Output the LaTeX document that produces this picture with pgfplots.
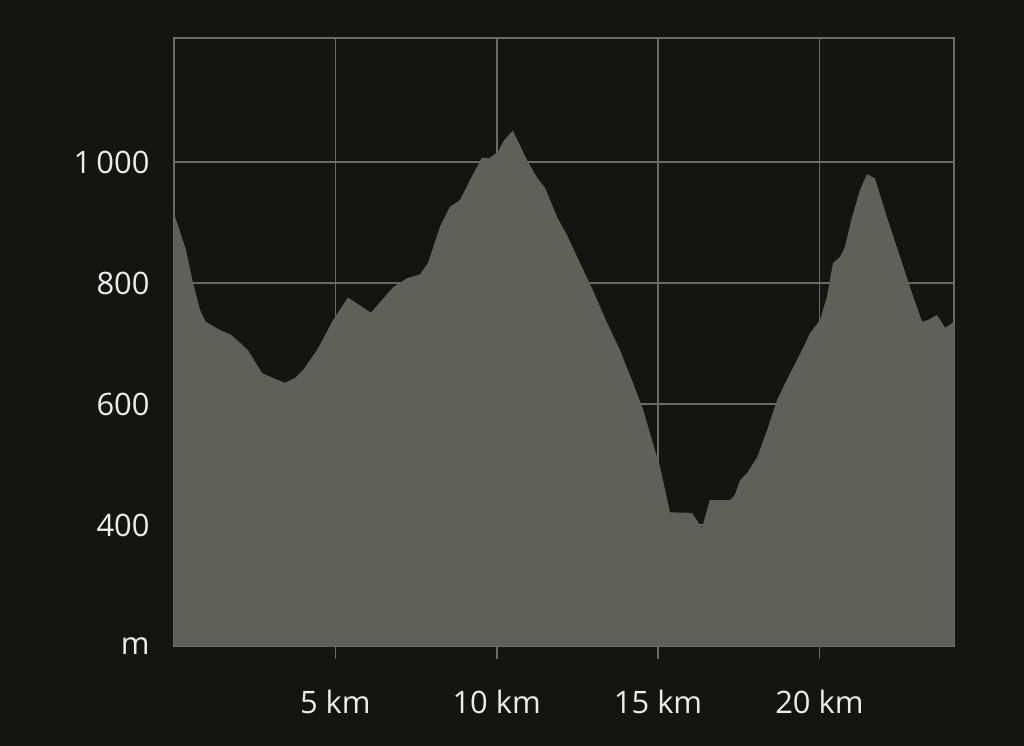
\documentclass[border=0pt]{standalone}
\usepackage{pgfplots}
\pgfplotsset{compat=1.18}
\usepackage{fontspec}
\setmainfont{Open Sans}
\definecolor{bg}{HTML}{141412}
\definecolor{fillc}{HTML}{5F605A}
\definecolor{gridc}{HTML}{6A6A67}
\definecolor{txt}{HTML}{ECECEA}
\begin{document}
\begin{tikzpicture}[x=1bp,y=1bp]
\fill[bg] (0,0) rectangle (1024,746);
\begin{axis}[
  at={(174bp,100bp)}, anchor=south west,
  scale only axis, width=780bp, height=608bp,
  xmin=0, xmax=24.17, ymin=200, ymax=1205,
  xtick={5,10,15,20}, xticklabels={5 km,10 km,15 km,20 km},
  ytick={200,400,600,800,1000}, yticklabels={m,400,600,800,1\,000},
  grid=major, major grid style={draw=gridc, line width=1.6bp},
  axis line style={draw=gridc, line width=1.6bp},
  x axis line style={-}, y axis line style={-},
  xtick style={draw=gridc, line width=1.6bp}, ytick style={draw=none},
  xtick pos=lower,
  tick align=outside, major tick length=13bp,
  ticklabel style={font=\fontsize{31}{37}\selectfont, text=txt},
  xticklabel style={yshift=-28bp},
  yticklabel style={xshift=-8bp},
  /pgf/number format/assume math mode=true,
]
\addplot[fill=fillc, draw=none] coordinates {
(0,200) (0,915) (0.37,855) (0.59,800) (0.81,755) (0.98,736) (1.43,722) (1.75,715)
(2.05,701) (2.29,689) (2.73,651) (3.07,643) (3.44,635) (3.75,643) (4.0,656)
(4.43,689) (4.93,739) (5.39,776) (6.10,751) (6.79,793) (7.22,808) (7.62,814)
(7.87,833) (8.24,893) (8.55,926) (8.86,937) (9.17,970) (9.54,1007) (9.79,1007)
(10.04,1017) (10.2,1034) (10.5,1052) (10.94,1003) (11.25,974) (11.5,957)
(11.87,909) (12.18,879) (12.58,833) (12.98,788) (13.42,734) (13.82,689)
(14.22,635) (14.53,592) (14.84,535) (15.06,496) (15.37,421) (16.05,420)
(16.36,395) (16.6,441) (17.23,441) (17.38,450) (17.54,474) (17.76,486)
(18.07,512) (18.38,557) (18.69,607) (19.0,641) (19.46,689) (19.71,717)
(20.02,739) (20.23,777) (20.42,833) (20.64,843) (20.79,860) (21.01,909)
(21.26,954) (21.47,980) (21.72,973) (22.09,909) (22.5,843) (22.87,783)
(23.18,736) (23.37,739) (23.64,747) (23.9,726) (24.17,736) (24.17,200)
} \closedcycle;
\end{axis}
\end{tikzpicture}
\end{document}
